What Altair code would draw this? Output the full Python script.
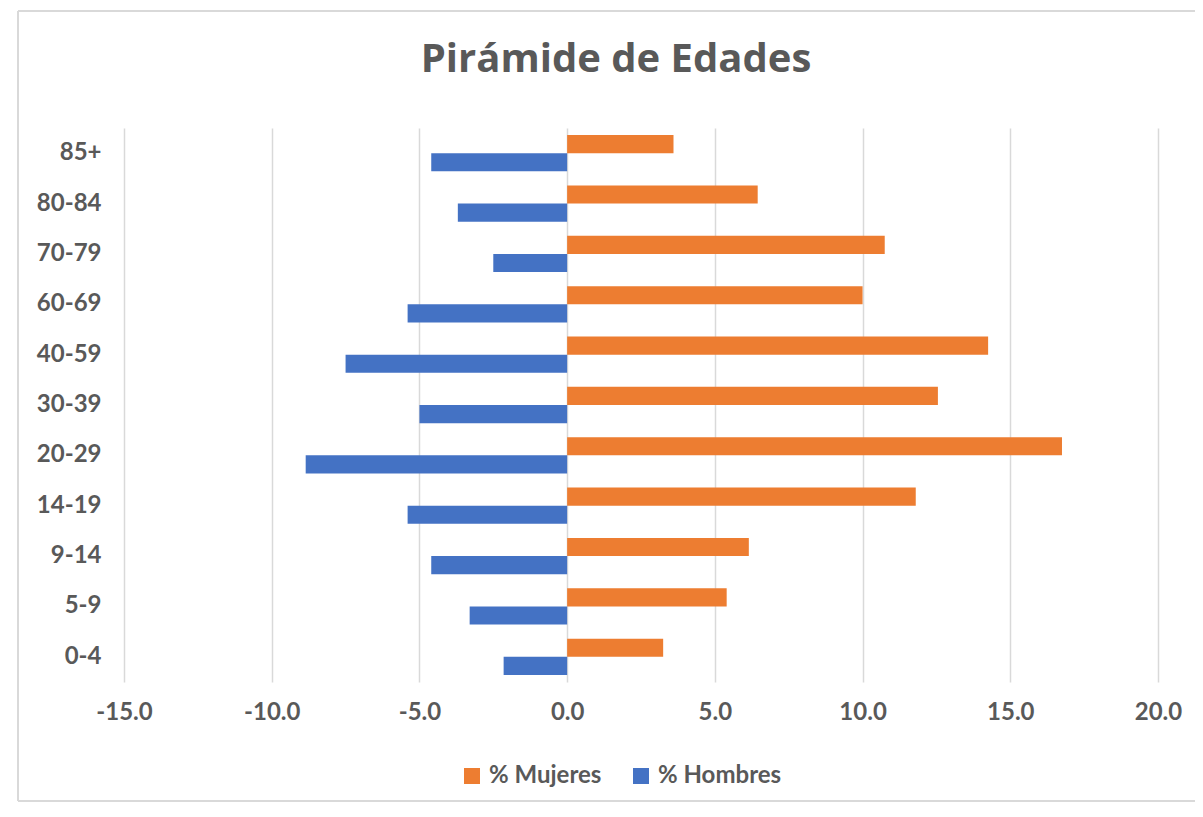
import altair as alt
import pandas as pd

# ---- data ----
edades = ["0-4", "5-9", "9-14", "14-19", "20-29", "30-39", "40-59", "60-69", "70-79", "80-84", "85+"]
mujeres = [3.25, 5.4, 6.15, 11.8, 16.75, 12.55, 14.25, 10.0, 10.75, 6.45, 3.6]
hombres = [-2.15, -3.3, -4.6, -5.4, -8.85, -5.0, -7.5, -5.4, -2.5, -3.7, -4.6]
series = ["% Mujeres", "% Hombres"]
colores = ["#ED7D31", "#4472C4"]
x_ticks = [-15, -10, -5, 0, 5, 10, 15, 20]

rows = []
for e, m, h in zip(edades, mujeres, hombres):
    rows.append({"Edad": e, "Serie": series[0], "Valor": m})
    rows.append({"Edad": e, "Serie": series[1], "Valor": h})
df = pd.DataFrame(rows)
orden = edades[::-1]

FONT = "Lato"
GRAY = "#595959"
LBL = 24

bars = alt.Chart(df).mark_bar().encode(
    x=alt.X(
        "Valor:Q",
        scale=alt.Scale(domain=[-15, 20], nice=False, zero=False),
        axis=alt.Axis(
            values=x_ticks, title=None, domain=False, ticks=False,
            labelExpr="replace(format(datum.value, '.1f'), '\u2212', '-')",
            labelFlush=False,
            grid=True, gridColor="#d9d9d9", gridWidth=1.5,
            labelFont=FONT, labelFontSize=LBL, labelColor=GRAY, labelFontWeight="bold",
            labelPadding=18,
        ),
    ),
    y=alt.Y(
        "Edad:N", sort=orden,
        scale=alt.Scale(paddingInner=0.28, paddingOuter=0.14),
        axis=alt.Axis(
            title=None, domain=False, ticks=False, grid=False,
            labelFont=FONT, labelFontSize=LBL, labelColor=GRAY, labelFontWeight="bold",
            labelPadding=23,
        ),
    ),
    yOffset=alt.YOffset("Serie:N", sort=series, scale=alt.Scale(paddingInner=0, paddingOuter=0)),
    color=alt.Color(
        "Serie:N", sort=series,
        scale=alt.Scale(domain=series, range=colores),
        legend=alt.Legend(
            title=None, orient="none", direction="horizontal",
            legendX=336, legendY=636,
            symbolType="square", symbolSize=256, symbolStrokeWidth=0,
            labelFont=FONT, labelFontSize=LBL, labelColor=GRAY, labelFontWeight="bold",
            labelOffset=5, columnPadding=27,
        ),
    ),
)

frame_df = pd.DataFrame({"k": [0]})
frame_style = dict(color="#d9d9d9", strokeWidth=2)
top_line = alt.Chart(frame_df).mark_rule(**frame_style).encode(
    x=alt.value(-106), x2=alt.value(1200), y=alt.value(-117)
)
left_line = alt.Chart(frame_df).mark_rule(**frame_style).encode(
    x=alt.value(-106), y=alt.value(-117), y2=alt.value(673)
)
bottom_line = alt.Chart(frame_df).mark_rule(**frame_style).encode(
    x=alt.value(-106), x2=alt.value(1200), y=alt.value(673)
)

chart = alt.layer(top_line, left_line, bottom_line, bars).properties(
    width=1034,
    height=554,
    background="white",
    autosize=alt.AutoSizeParams(type="none"),
    padding={"left": 116, "top": 120, "right": 37, "bottom": 122},
    title=alt.Title(
        "Pirámide de Edades", font="Open Sans", fontSize=40, fontWeight="bold",
        color=GRAY, anchor="middle", frame="group", offset=-70, dx=-25,
    ),
).configure_view(strokeWidth=0)

chart.save("out.html", embed_options={"renderer": "svg", "actions": False})
